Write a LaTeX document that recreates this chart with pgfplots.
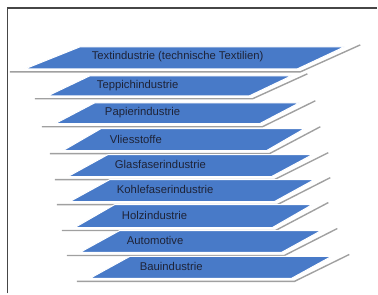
\documentclass[border=0pt]{standalone}
\usepackage{pgfplots}
\pgfplotsset{compat=1.18}
\usepackage{fontspec}
\setmainfont{Liberation Sans}
\definecolor{layerblue}{RGB}{72,122,200}
\definecolor{shadowgray}{RGB}{160,160,160}
\definecolor{framegray}{RGB}{70,70,70}
\definecolor{txt}{RGB}{30,35,55}
\tikzset{
  lay/.style={fill=layerblue, draw=white, line width=1pt},
  shd/.style={draw=shadowgray, line width=1.4pt},
  lbl/.style={font=\fontsize{11.3}{13}\selectfont, text=txt, inner sep=0pt},
}
\begin{document}
\begin{tikzpicture}
\begin{axis}[
  width=378pt, height=294pt, scale only axis,
  xmin=0, xmax=378, ymin=0, ymax=294, y dir=reverse,
  hide axis, clip=false,
]
% bounding box
\addplot[draw=none] coordinates {(0,0) (378,294)};
% frame
\addplot[draw=framegray, line width=1.6pt] coordinates {(7.5,294) (7.5,8) (378,8)};
% shadows
\addplot[shd] coordinates {(10,72) (301,72) (361,45)};
\addplot[shd] coordinates {(35,99) (253,99) (308,74)};
\addplot[shd] coordinates {(42,127) (263,127) (316,101)};
\addplot[shd] coordinates {(50,154) (270,154) (321,127)};
\addplot[shd] coordinates {(55,180) (275,180) (329,153)};
\addplot[shd] coordinates {(57,205) (278,205) (331,178)};
\addplot[shd] coordinates {(62,231) (276,231) (329,203)};
\addplot[shd] coordinates {(67,256) (285,256) (338,229)};
\addplot[shd] coordinates {(77,282) (295,282) (350,255)};
% layers
\addplot[lay] coordinates {(80,47) (345,47) (298,69) (25,69)} -- cycle;
\addplot[lay] coordinates {(90,76) (292,76) (250,96) (48,96)} -- cycle;
\addplot[lay] coordinates {(95,103) (300,103) (260,124) (55,124)} -- cycle;
\addplot[lay] coordinates {(101,129) (305,129) (267,151) (63,151)} -- cycle;
\addplot[lay] coordinates {(108,155) (313,155) (272,177) (68,177)} -- cycle;
\addplot[lay] coordinates {(110,180) (315,180) (275,202) (70,202)} -- cycle;
\addplot[lay] coordinates {(115,205) (313,205) (273,228) (75,228)} -- cycle;
\addplot[lay] coordinates {(120,231) (322,231) (282,253) (80,253)} -- cycle;
\addplot[lay] coordinates {(130,257) (332,257) (292,279) (90,279)} -- cycle;
% labels
\node[lbl, anchor=center] at (axis cs:178,57) {Textindustrie (technische Textilien)};
\node[lbl, anchor=west] at (axis cs:97,85.5) {Teppichindustrie};
\node[lbl, anchor=west] at (axis cs:105,113) {Papierindustrie};
\node[lbl, anchor=west] at (axis cs:110,139.5) {Vliesstoffe};
\node[lbl, anchor=west] at (axis cs:115,165) {Glasfaserindustrie};
\node[lbl, anchor=west] at (axis cs:117,190) {Kohlefaserindustrie};
\node[lbl, anchor=west] at (axis cs:122,215.5) {Holzindustrie};
\node[lbl, anchor=west] at (axis cs:127,241) {Automotive};
\node[lbl, anchor=west] at (axis cs:140,267) {Bauindustrie};
\end{axis}
\end{tikzpicture}
\end{document}
